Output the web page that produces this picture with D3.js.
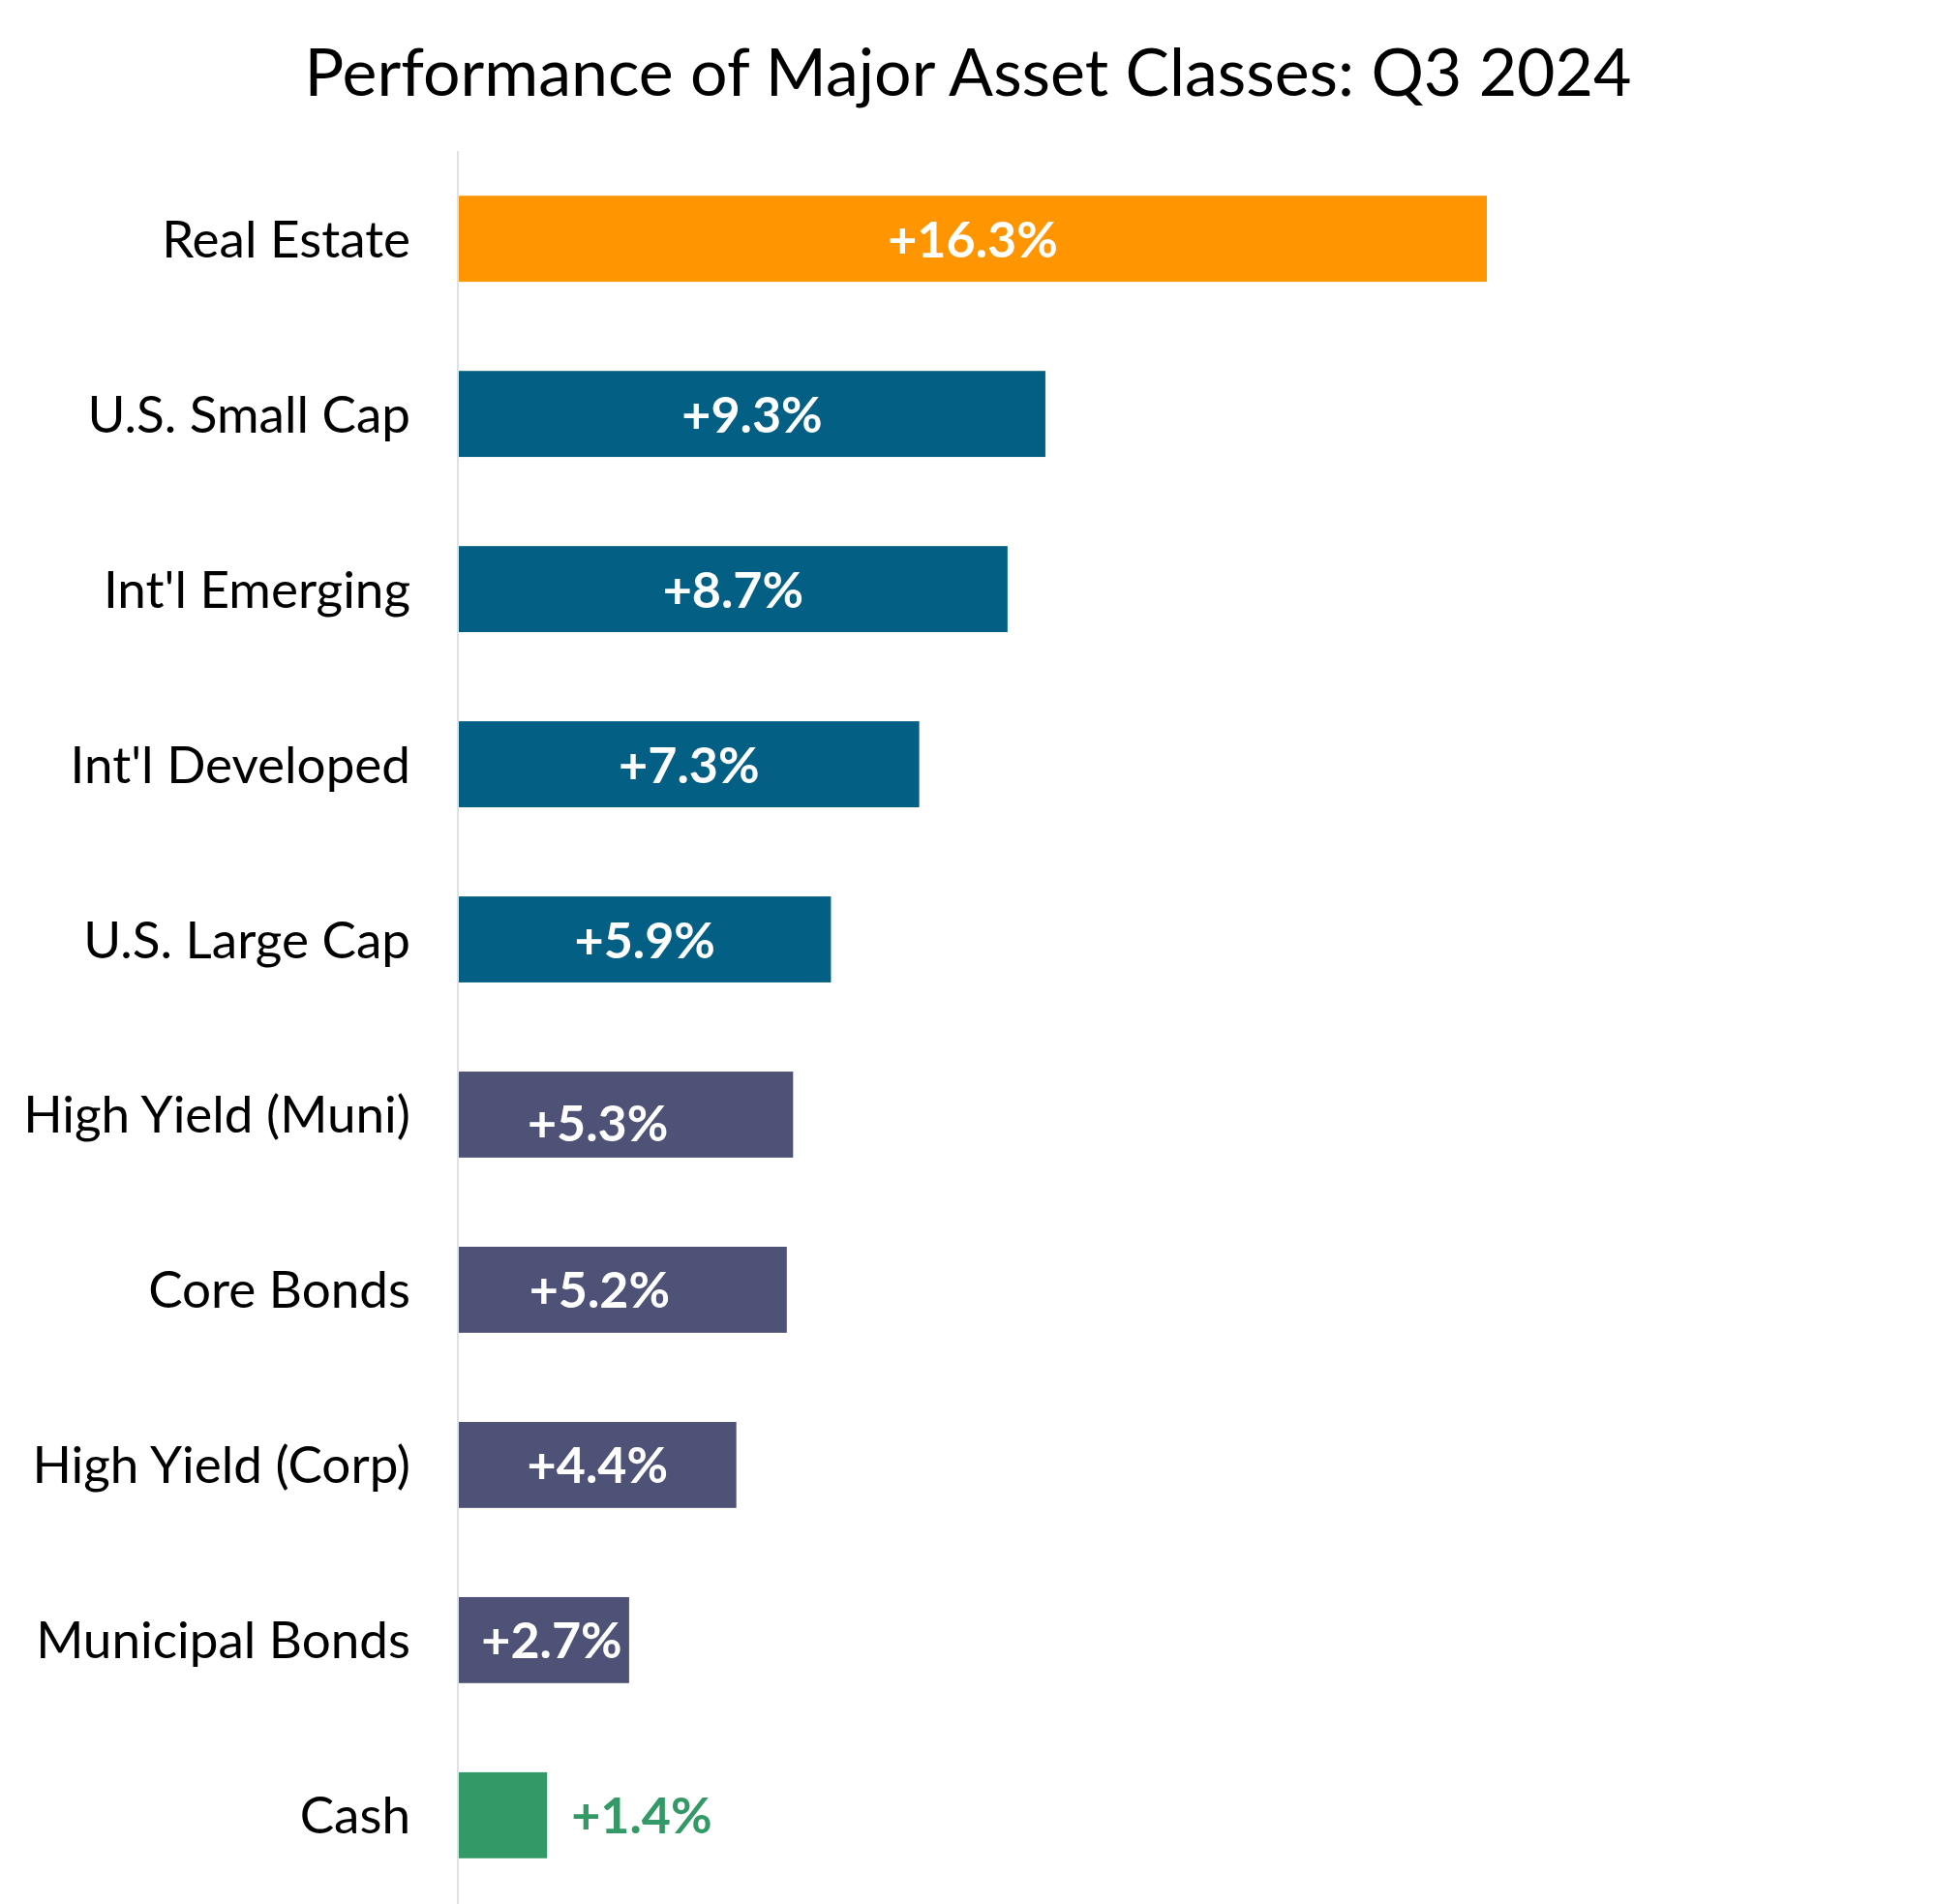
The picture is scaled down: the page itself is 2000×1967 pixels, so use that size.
<!DOCTYPE html>
<html>
<head>
<meta charset="utf-8">
<script src="https://cdn.jsdelivr.net/npm/d3@7"></script>
<style>
  html, body { margin: 0; padding: 0; background: #ffffff; }
  svg { display: block; }
</style>
</head>
<body>
<svg id="chart" width="2000" height="1967"></svg>
<script>
// ---- data ----
const categories = ["Real Estate", "U.S. Small Cap", "Int'l Emerging", "Int'l Developed", "U.S. Large Cap",
                    "High Yield (Muni)", "Core Bonds", "High Yield (Corp)", "Municipal Bonds", "Cash"];
const values = [16.3, 9.3, 8.7, 7.3, 5.9, 5.3, 5.2, 4.4, 2.7, 1.4];
const groups = ["realestate", "equity", "equity", "equity", "equity", "bond", "bond", "bond", "bond", "cash"];
const valueLabels = ["+16.3%", "+9.3%", "+8.7%", "+7.3%", "+5.9%", "+5.3%", "+5.2%", "+4.4%", "+2.7%", "+1.4%"];
const title = "Performance of Major Asset Classes: Q3 2024";

// ---- styling ----
const colors = { realestate: "#FF9500", equity: "#045F84", bond: "#4E5276", cash: "#339966" };
const font = "Lato, 'Open Sans', sans-serif";
// small label nudges seen in the reference (x, y in px)
const labelNudge = { "High Yield (Muni)": [-29, 9], "Core Bonds": [-24, 0], "Municipal Bonds": [8, 0] };

const svg = d3.select("#chart");
const W = 2000, H = 1967;

const x = d3.scaleLinear().domain([0, 16.3]).range([474, 1536]);
const y = d3.scaleBand().domain(categories).range([157, 1965]).paddingInner(0.509).paddingOuter(0.25);

const data = categories.map((c, i) => ({ cat: c, v: values[i], g: groups[i], lab: valueLabels[i] }));

// title
svg.append("text")
  .attr("x", W / 2).attr("y", 99)
  .attr("text-anchor", "middle")
  .style("font-family", font).style("font-size", "68px").style("fill", "#000")
  .text(title);

// axis line
svg.append("line")
  .attr("x1", 473).attr("x2", 473).attr("y1", 156).attr("y2", H)
  .attr("stroke", "#dde1e8").attr("stroke-width", 2);

// bars
svg.selectAll("rect.bar").data(data).enter().append("rect")
  .attr("class", "bar")
  .attr("x", x(0))
  .attr("y", d => y(d.cat))
  .attr("width", d => x(d.v) - x(0))
  .attr("height", y.bandwidth())
  .attr("fill", d => colors[d.g]);

// category labels
svg.selectAll("text.cat").data(data).enter().append("text")
  .attr("class", "cat")
  .attr("x", 424)
  .attr("y", d => y(d.cat) + y.bandwidth() / 2 + 19)
  .attr("text-anchor", "end")
  .style("font-family", font).style("font-size", "53px").style("fill", "#000")
  .text(d => d.cat);

// value labels
svg.selectAll("text.val").data(data).enter().append("text")
  .attr("class", "val")
  .attr("x", d => {
    const n = labelNudge[d.cat] ? labelNudge[d.cat][0] : 0;
    return d.g === "cash" ? x(d.v) + 25 : (x(0) + x(d.v)) / 2 + n;
  })
  .attr("y", d => {
    const n = labelNudge[d.cat] ? labelNudge[d.cat][1] : 0;
    return y(d.cat) + y.bandwidth() / 2 + 19 + n;
  })
  .attr("text-anchor", d => d.g === "cash" ? "start" : "middle")
  .style("font-family", font).style("font-size", "52px").style("font-weight", "700")
  .style("fill", d => d.g === "cash" ? colors.cash : "#ffffff")
  .text(d => d.lab);
</script>
</body>
</html>
